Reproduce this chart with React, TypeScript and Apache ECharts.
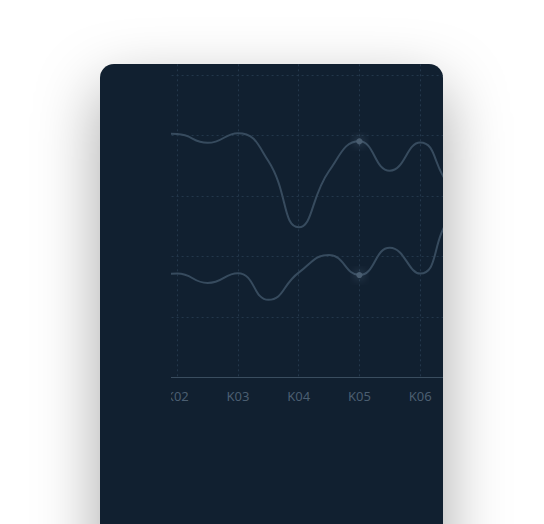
import React, { useEffect, useRef } from "react";
import * as echarts from "echarts";

// x positions (half-category steps) and labels
const xPositions = [1, 1.5, 2, 2.5, 3, 3.5, 4, 4.5, 5, 5.5, 6, 6.5, 7];
const xLabels = ["K01", "K02", "K03", "K04", "K05", "K06", "K07"];
const upperValues = [78, 80.6, 80.4, 77.5, 80.7, 71.5, 49.6, 68.2, 78, 68.3, 77.6, 63, 56];
const lowerValues = [32, 33, 34.3, 31.2, 34.4, 25.6, 34.6, 40.4, 33.8, 42.8, 34.3, 53, 60];
const highlightX = 5;

export default function App() {
  const ref = useRef<HTMLDivElement>(null);

  useEffect(() => {
    if (!ref.current) return;
    const chart = echarts.init(ref.current, undefined, { renderer: "svg" });
    const mk = (vals: number[]) =>
      xPositions.map((x, i) =>
        x === highlightX
          ? {
              value: [x, vals[i]],
              symbol: "circle",
              symbolSize: 6,
              itemStyle: {
                color: "#4a5d70",
                shadowBlur: 10,
                shadowColor: "rgba(150,180,210,0.55)",
              },
            }
          : { value: [x, vals[i]], symbol: "none" }
      );
    const lineStyle = { color: "#374b5e", width: 2 };
    chart.setOption({
      animation: false,
      grid: { left: 25.6, right: 70.2, top: 10.3, bottom: 52.7, outerBoundsMode: "none" },
      xAxis: {
        type: "value",
        min: 1,
        max: 7,
        interval: 1,
        axisLine: { show: true, lineStyle: { color: "#3a4d5f", width: 1 } },
        axisTick: { show: false },
        axisLabel: {
          color: "#4b5e71",
          fontSize: 13,
          fontFamily: "Noto Sans",
          margin: 12,
          formatter: (v: number) => xLabels[Math.round(v) - 1] ?? "",
        },
        splitLine: {
          show: true,
          lineStyle: { color: "#23374b", type: [2, 3], width: 1 },
        },
      },
      yAxis: {
        type: "value",
        min: 0,
        max: 120,
        interval: 20,
        axisLabel: { show: false },
        axisLine: { show: false },
        axisTick: { show: false },
        splitLine: {
          show: true,
          lineStyle: { color: "#23374b", type: [2, 3], width: 1 },
        },
      },
      series: [
        {
          type: "line",
          smooth: true,
          showSymbol: true,
          symbol: "none",
          lineStyle,
          itemStyle: { color: "#374b5e" },
          data: mk(upperValues),
        },
        {
          type: "line",
          smooth: true,
          showSymbol: true,
          symbol: "none",
          lineStyle,
          itemStyle: { color: "#374b5e" },
          data: mk(lowerValues),
        },
      ],
    });
    return () => chart.dispose();
  }, []);

  return (
    <div style={{ position: "fixed", inset: 0, background: "#ffffff", overflow: "hidden" }}>
      <div
        style={{
          position: "absolute",
          left: 100,
          top: 64,
          width: 343,
          height: 520,
          background: "#112030",
          borderRadius: 14,
          boxShadow: "0 24px 64px rgba(0,0,0,0.35)",
          overflow: "hidden",
        }}
      >
        <div
          style={{
            position: "absolute",
            left: 71,
            top: 0,
            width: 300,
            height: 420,
            overflow: "hidden",
          }}
        >
          <div
            ref={ref}
            style={{ position: "absolute", left: -80, top: -60, width: 460, height: 426 }}
          />
        </div>
      </div>
    </div>
  );
}
